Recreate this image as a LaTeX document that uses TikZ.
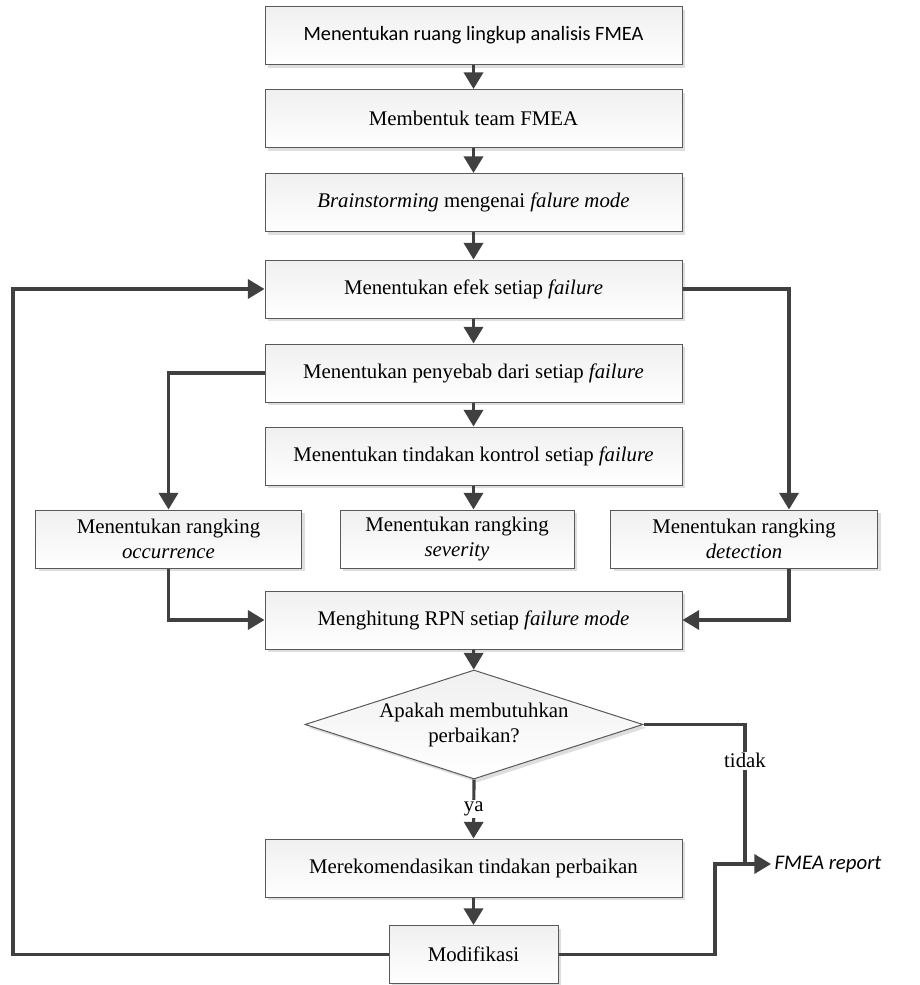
\documentclass[tikz,border=0pt]{standalone}
\usepackage{fontspec}
\setmainfont{Liberation Serif}
\newfontfamily\cali{Carlito}
\usetikzlibrary{shapes,arrows.meta,positioning,calc,shadows}

\begin{document}
\begin{tikzpicture}[x=0.6pt,y=-0.6pt,
    font=\fontsize{12.5}{15}\selectfont,
    box/.style={draw=black!65, line width=0.6pt, top color=black!6, bottom color=white,
        drop shadow={shadow xshift=2pt, shadow yshift=-2pt, fill=black!13, opacity=1},
        minimum width=250.2pt, minimum height=34.8pt, align=center, inner sep=2pt},
    rbox/.style={box, minimum width=160pt},
    dec/.style={box, diamond, minimum width=202.8pt, minimum height=65.4pt, aspect=3, inner sep=0pt},
    line/.style={draw=black!75, line width=1.9pt},
    arr/.style={line, -{Triangle[length=10pt,width=11.5pt]}}]
    \useasboundingbox (0,0) rectangle (919,985);

    % Main steps
    \node[box] (b1) at (473.5,35.5) {\cali\fontsize{12.2}{15}\selectfont Menentukan ruang lingkup analisis FMEA};
    \node[box] (b2) at (473.5,118.5) {Membentuk team FMEA};
    \node[box] (b3) at (473.5,202.5) {\textit{Brainstorming} mengenai \textit{falure mode}};
    \node[box] (b4) at (473.5,289) {Menentukan efek setiap \textit{failure}};
    \node[box] (b5) at (473.5,373) {Menentukan penyebab dari setiap \textit{failure}};
    \node[box] (b6) at (473.5,456) {Menentukan tindakan kontrol setiap \textit{failure}};

    % Rankings
    \node[rbox] (occ) at (168.5,539) {Menentukan rangking\\\textit{occurrence}};
    \node[rbox, minimum width=140.4pt] (sev) at (457,539) {Menentukan rangking\\\textit{severity}};
    \node[rbox] (det) at (744,539) {Menentukan rangking\\\textit{detection}};

    \node[box] (rpn) at (473.5,620) {Menghitung RPN setiap \textit{failure mode}};
    \node[dec] (dec) at (474,724.5) {Apakah membutuhkan\\perbaikan?};
    \node[box] (rek) at (473.5,868) {Merekomendasikan tindakan perbaikan};
    \node[box, minimum width=101.4pt] (mod) at (473.5,954.5) {Modifikasi};
    \node[anchor=west, inner sep=2pt] (rep) at (771,864) {\cali\itshape FMEA report};

    \coordinate (jn) at (745,864);
    \coordinate (kk) at (715,864);
    \coordinate (lp) at (13,289);

    % Connectors
    \draw[arr] (b1) -- (b2);
    \draw[arr] (b2) -- (b3);
    \draw[arr] (b3) -- (b4);
    \draw[arr] (b4) -- (b5);
    \draw[arr] (b5) -- (b6);
    \draw[arr] (b6.south) -- (b6.south |- sev.north);
    \draw[arr] (b4.east) -| ([xshift=27pt]det.north);
    \draw[arr] (b5.west) -| (occ.north);
    \draw[arr] (occ.south) |- (rpn.west);
    \draw[arr] ([xshift=27pt]det.south) |- (rpn.east);
    \draw[arr] (rpn) -- (dec);
    \draw[arr] (dec.south) -- node[midway, fill=white, inner sep=1pt] {ya} (rek.north);
    \draw[line] (dec.east) -| node[pos=0.63, fill=white, inner sep=1pt] {tidak} (jn);
    \draw[arr] (rek) -- (mod);
    \draw[arr] (mod.east) -| (kk) -- (rep.west);
    \draw[arr] (mod.west) -| (lp) -- (b4.west);
\end{tikzpicture}
\end{document}
